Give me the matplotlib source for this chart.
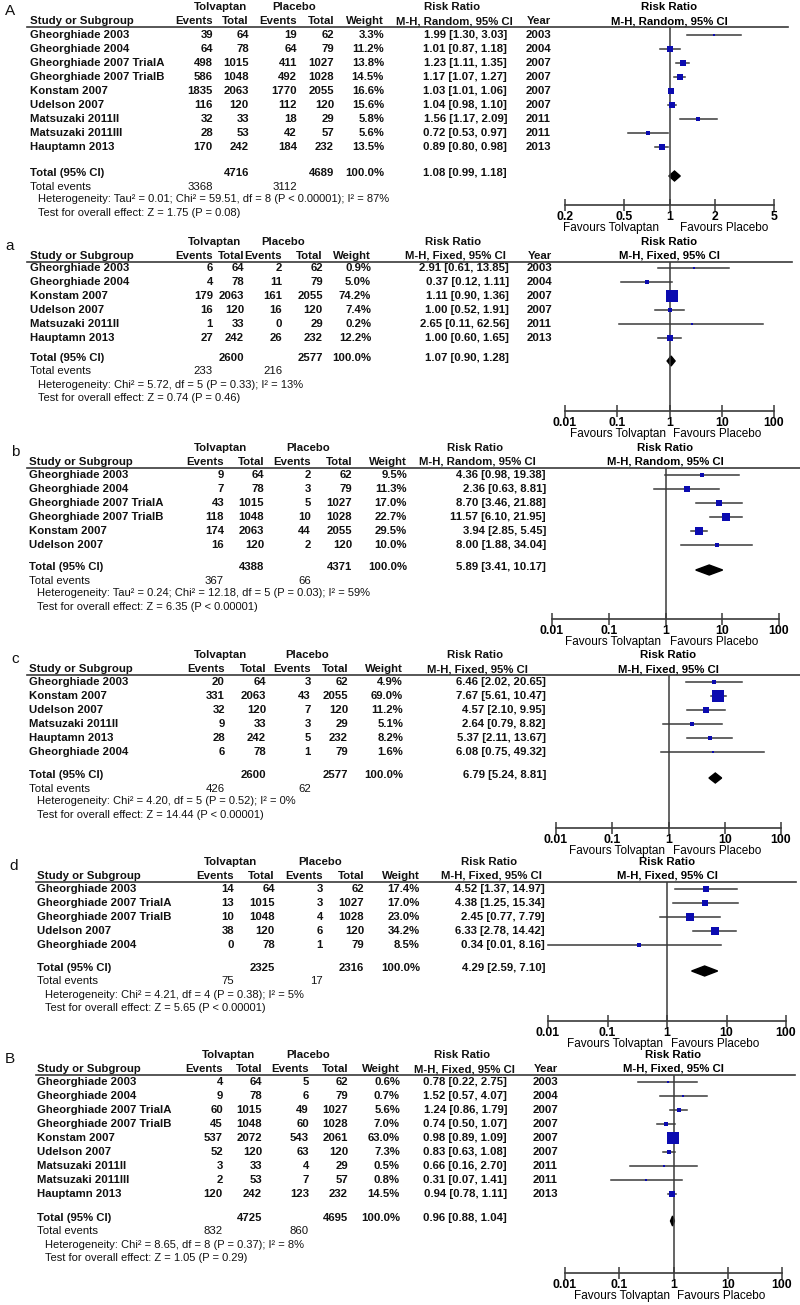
import numpy as np
import matplotlib
matplotlib.use('Agg')
import matplotlib.pyplot as plt
from matplotlib.ticker import NullLocator

plt.rcParams['font.family'] = ['Liberation Sans', 'DejaVu Sans']

W, H = 800, 1305

# ---------------- data ----------------
# Panel A (random effects)
pA_study = ['Gheorghiade 2003', 'Gheorghiade 2004', 'Gheorghiade 2007 TrialA', 'Gheorghiade 2007 TrialB',
            'Konstam 2007', 'Udelson 2007', 'Matsuzaki 2011II', 'Matsuzaki 2011III', 'Hauptamn 2013']
pA_tol_ev = [39, 64, 498, 586, 1835, 116, 32, 28, 170]
pA_tol_n = [64, 78, 1015, 1048, 2063, 120, 33, 53, 242]
pA_pla_ev = [19, 64, 411, 492, 1770, 112, 18, 42, 184]
pA_pla_n = [62, 79, 1027, 1028, 2055, 120, 29, 57, 232]
pA_weight = [3.3, 11.2, 13.8, 14.5, 16.6, 15.6, 5.8, 5.6, 13.5]
pA_rr = [1.99, 1.01, 1.23, 1.17, 1.03, 1.04, 1.56, 0.72, 0.89]
pA_lo = [1.30, 0.87, 1.11, 1.07, 1.01, 0.98, 1.17, 0.53, 0.80]
pA_hi = [3.03, 1.18, 1.35, 1.27, 1.06, 1.10, 2.09, 0.97, 0.98]
pA_year = [2003, 2004, 2007, 2007, 2007, 2007, 2011, 2011, 2013]
pA_total = [4716, 4689, 1.08, 0.99, 1.18]
pA_events = [3368, 3112]
pA_het = 'Heterogeneity: Tau² = 0.01; Chi² = 59.51, df = 8 (P < 0.00001); I² = 87%'
pA_test = 'Test for overall effect: Z = 1.75 (P = 0.08)'

# Panel a
pa_study = ['Gheorghiade 2003', 'Gheorghiade 2004', 'Konstam 2007', 'Udelson 2007',
            'Matsuzaki 2011II', 'Hauptamn 2013']
pa_tol_ev = [6, 4, 179, 16, 1, 27]
pa_tol_n = [64, 78, 2063, 120, 33, 242]
pa_pla_ev = [2, 11, 161, 16, 0, 26]
pa_pla_n = [62, 79, 2055, 120, 29, 232]
pa_weight = [0.9, 5.0, 74.2, 7.4, 0.2, 12.2]
pa_rr = [2.91, 0.37, 1.11, 1.00, 2.65, 1.00]
pa_lo = [0.61, 0.12, 0.90, 0.52, 0.11, 0.60]
pa_hi = [13.85, 1.11, 1.36, 1.91, 62.56, 1.65]
pa_year = [2003, 2004, 2007, 2007, 2011, 2013]
pa_total = [2600, 2577, 1.07, 0.90, 1.28]
pa_events = [233, 216]
pa_het = 'Heterogeneity: Chi² = 5.72, df = 5 (P = 0.33); I² = 13%'
pa_test = 'Test for overall effect: Z = 0.74 (P = 0.46)'

# Panel b
pb_study = ['Gheorghiade 2003', 'Gheorghiade 2004', 'Gheorghiade 2007 TrialA', 'Gheorghiade 2007 TrialB',
            'Konstam 2007', 'Udelson 2007']
pb_tol_ev = [9, 7, 43, 118, 174, 16]
pb_tol_n = [64, 78, 1015, 1048, 2063, 120]
pb_pla_ev = [2, 3, 5, 10, 44, 2]
pb_pla_n = [62, 79, 1027, 1028, 2055, 120]
pb_weight = [9.5, 11.3, 17.0, 22.7, 29.5, 10.0]
pb_rr = [4.36, 2.36, 8.70, 11.57, 3.94, 8.00]
pb_lo = [0.98, 0.63, 3.46, 6.10, 2.85, 1.88]
pb_hi = [19.38, 8.81, 21.88, 21.95, 5.45, 34.04]
pb_total = [4388, 4371, 5.89, 3.41, 10.17]
pb_events = [367, 66]
pb_het = 'Heterogeneity: Tau² = 0.24; Chi² = 12.18, df = 5 (P = 0.03); I² = 59%'
pb_test = 'Test for overall effect: Z = 6.35 (P < 0.00001)'

# Panel c
pc_study = ['Gheorghiade 2003', 'Konstam 2007', 'Udelson 2007', 'Matsuzaki 2011II',
            'Hauptamn 2013', 'Gheorghiade 2004']
pc_tol_ev = [20, 331, 32, 9, 28, 6]
pc_tol_n = [64, 2063, 120, 33, 242, 78]
pc_pla_ev = [3, 43, 7, 3, 5, 1]
pc_pla_n = [62, 2055, 120, 29, 232, 79]
pc_weight = [4.9, 69.0, 11.2, 5.1, 8.2, 1.6]
pc_rr = [6.46, 7.67, 4.57, 2.64, 5.37, 6.08]
pc_lo = [2.02, 5.61, 2.10, 0.79, 2.11, 0.75]
pc_hi = [20.65, 10.47, 9.95, 8.82, 13.67, 49.32]
pc_total = [2600, 2577, 6.79, 5.24, 8.81]
pc_events = [426, 62]
pc_het = 'Heterogeneity: Chi² = 4.20, df = 5 (P = 0.52); I² = 0%'
pc_test = 'Test for overall effect: Z = 14.44 (P < 0.00001)'

# Panel d
pd_study = ['Gheorghiade 2003', 'Gheorghiade 2007 TrialA', 'Gheorghiade 2007 TrialB',
            'Udelson 2007', 'Gheorghiade 2004']
pd_tol_ev = [14, 13, 10, 38, 0]
pd_tol_n = [64, 1015, 1048, 120, 78]
pd_pla_ev = [3, 3, 4, 6, 1]
pd_pla_n = [62, 1027, 1028, 120, 79]
pd_weight = [17.4, 17.0, 23.0, 34.2, 8.5]
pd_rr = [4.52, 4.38, 2.45, 6.33, 0.34]
pd_lo = [1.37, 1.25, 0.77, 2.78, 0.01]
pd_hi = [14.97, 15.34, 7.79, 14.42, 8.16]
pd_total = [2325, 2316, 4.29, 2.59, 7.10]
pd_events = [75, 17]
pd_het = 'Heterogeneity: Chi² = 4.21, df = 4 (P = 0.38); I² = 5%'
pd_test = 'Test for overall effect: Z = 5.65 (P < 0.00001)'

# Panel B
pB_study = ['Gheorghiade 2003', 'Gheorghiade 2004', 'Gheorghiade 2007 TrialA', 'Gheorghiade 2007 TrialB',
            'Konstam 2007', 'Udelson 2007', 'Matsuzaki 2011II', 'Matsuzaki 2011III', 'Hauptamn 2013']
pB_tol_ev = [4, 9, 60, 45, 537, 52, 3, 2, 120]
pB_tol_n = [64, 78, 1015, 1048, 2072, 120, 33, 53, 242]
pB_pla_ev = [5, 6, 49, 60, 543, 63, 4, 7, 123]
pB_pla_n = [62, 79, 1027, 1028, 2061, 120, 29, 57, 232]
pB_weight = [0.6, 0.7, 5.6, 7.0, 63.0, 7.3, 0.5, 0.8, 14.5]
pB_rr = [0.78, 1.52, 1.24, 0.74, 0.98, 0.83, 0.66, 0.31, 0.94]
pB_lo = [0.22, 0.57, 0.86, 0.50, 0.89, 0.63, 0.16, 0.07, 0.78]
pB_hi = [2.75, 4.07, 1.79, 1.07, 1.09, 1.08, 2.70, 1.41, 1.11]
pB_year = [2003, 2004, 2007, 2007, 2007, 2007, 2011, 2011, 2013]
pB_total = [4725, 4695, 0.96, 0.88, 1.04]
pB_events = [832, 860]
pB_het = 'Heterogeneity: Chi² = 8.65, df = 8 (P = 0.37); I² = 8%'
pB_test = 'Test for overall effect: Z = 1.05 (P = 0.29)'

ticks_narrow = [0.2, 0.5, 1, 2, 5]
ticklabels_narrow = ['0.2', '0.5', '1', '2', '5']
ticks_wide = [0.01, 0.1, 1, 10, 100]
ticklabels_wide = ['0.01', '0.1', '1', '10', '100']

BLUE = '#0b0bb0'
GREY = '#3a3a3a'
FS = 8.2
FS_SMALL = 8.0

fig = plt.figure(figsize=(W / 100, H / 100), dpi=100)
bg = fig.add_axes([0, 0, 1, 1])
bg.set_xlim(0, W)
bg.set_ylim(H, 0)
bg.axis('off')


def txt(x, y, s, ha='left', weight='bold', size=FS):
    bg.text(x, y, s, ha=ha, va='center', fontsize=size, fontweight=weight, color='#111')


def draw_panel(letter, study, tev, tn, pev, pn, wt, rr, lo, hi, year, total, events, het, test,
               model, lay, ticks, ticklabels):
    top, row0, tot_y, axis_y = lay['top'], lay['row0'], lay['total'], lay['axis']
    c = lay['col']
    rule_y = top + 20
    step = 14

    bg.text(lay['letter_x'], top + 4, letter, ha='left', va='center', fontsize=11, color='#111')

    # headers
    txt(c['tolv'], top, 'Tolvaptan', ha='center')
    txt(c['plac'], top, 'Placebo', ha='center')
    txt(c['rr'], top, 'Risk Ratio', ha='center')
    h2 = top + 14
    txt(c['study'], h2, 'Study or Subgroup')
    txt(c['ev'], h2, 'Events', ha='right')
    txt(c['tot'], h2, 'Total', ha='right')
    txt(c['pev'], h2, 'Events', ha='right')
    txt(c['ptot'], h2, 'Total', ha='right')
    txt(c['wt'], h2, 'Weight', ha='right')
    txt(c['rr'] + 2, h2, 'M-H, %s, 95%% CI' % model, ha='center')
    if year is not None:
        txt(c['yr'], h2, 'Year', ha='right')
    bg.plot(lay['rule_x'], [rule_y, rule_y], color=GREY, lw=1.2)

    # study rows
    for i in range(len(study)):
        y = row0 + i * step
        txt(c['study'], y, study[i])
        txt(c['ev'], y, str(tev[i]), ha='right')
        txt(c['tot'], y, str(tn[i]), ha='right')
        txt(c['pev'], y, str(pev[i]), ha='right')
        txt(c['ptot'], y, str(pn[i]), ha='right')
        txt(c['wt'], y, '%.1f%%' % wt[i], ha='right')
        txt(c['ci'], y, '%.2f [%.2f, %.2f]' % (rr[i], lo[i], hi[i]), ha='right')
        if year is not None:
            txt(c['yr'], y, str(year[i]), ha='right')

    # totals
    txt(c['study'], tot_y, 'Total (95% CI)')
    txt(c['tot'], tot_y, str(total[0]), ha='right')
    txt(c['ptot'], tot_y, str(total[1]), ha='right')
    txt(c['wt'], tot_y, '100.0%', ha='right')
    txt(c['ci'], tot_y, '%.2f [%.2f, %.2f]' % (total[2], total[3], total[4]), ha='right')
    txt(c['study'], tot_y + 13.5, 'Total events', weight='normal')
    txt(c['ev'], tot_y + 13.5, str(events[0]), ha='right', weight='normal')
    txt(c['pev'], tot_y + 13.5, str(events[1]), ha='right', weight='normal')
    txt(c['study'] + 8, tot_y + 26.5, het, weight='normal', size=FS_SMALL)
    txt(c['study'] + 8, tot_y + 40, test, weight='normal', size=FS_SMALL)

    # forest plot
    x0, x1 = lay['plot']
    ax = fig.add_axes([x0 / W, 1 - axis_y / H, (x1 - x0) / W, (axis_y - rule_y) / H])
    ax.set_xscale('log')
    ax.set_xlim(ticks[0], ticks[-1])
    ax.set_ylim(axis_y, rule_y)
    ax.patch.set_alpha(0)
    for s in ['top', 'left', 'right']:
        ax.spines[s].set_visible(False)
    ax.spines['bottom'].set_color(GREY)
    ax.spines['bottom'].set_linewidth(1.2)
    ax.set_yticks([])
    ax.set_xticks(ticks)
    ax.set_xticklabels(ticklabels)
    ax.xaxis.set_minor_locator(NullLocator())
    ax.tick_params(axis='x', direction='inout', length=8, width=1.1, color=GREY,
                   labelsize=8.8, pad=0)
    for t in ax.get_xticklabels():
        t.set_fontweight('bold')
    ax.axvline(1, color=GREY, lw=1.1)

    for i in range(len(study)):
        y = row0 + i * step
        ax.plot([lo[i], hi[i]], [y, y], color=GREY, lw=1.1, clip_on=False)
        side = max(2.4, 1.5 * np.sqrt(wt[i]))
        ax.plot(rr[i], y, marker='s', ms=side * 0.72, color=BLUE, mec=BLUE, mew=0, clip_on=False)

    d = 5
    ax.fill([total[3], total[2], total[4], total[2]], [tot_y + 3, tot_y + 3 - d, tot_y + 3, tot_y + 3 + d],
            color='black', clip_on=False)

    xc = np.sqrt(ticks[0] * ticks[-1])
    ax.text(xc, top, 'Risk Ratio', ha='center', va='center', fontsize=FS, fontweight='bold', clip_on=False)
    ax.text(xc, top + 14, 'M-H, %s, 95%% CI' % model, ha='center', va='center', fontsize=FS,
            fontweight='bold', clip_on=False)
    ax.text(0.85, axis_y + 23, 'Favours Tolvaptan', ha='right', va='center', fontsize=8.5, clip_on=False)
    ax.text(1.18, axis_y + 23, 'Favours Placebo', ha='left', va='center', fontsize=8.5, clip_on=False)


layouts = {
    'A': dict(top=7, row0=35, total=173, axis=205, letter_x=5, rule_x=[27, 788], plot=(565, 774),
              col=dict(study=30, ev=213, tot=249, pev=297, ptot=334, wt=384, ci=507, yr=551,
                       tolv=221, plac=294, rr=452)),
    'a': dict(top=242, row0=268, total=358, axis=411, letter_x=5, rule_x=[27, 792], plot=(565, 774),
              col=dict(study=30, ev=213, tot=244, pev=282, ptot=323, wt=371, ci=509, yr=552,
                       tolv=214, plac=283, rr=453)),
    'b': dict(top=448, row0=475, total=567, axis=619, letter_x=11, rule_x=[27, 800], plot=(552, 779),
              col=dict(study=29, ev=224, tot=264, pev=311, ptot=352, wt=407, ci=546,
                       tolv=220, plac=308, rr=475)),
    'c': dict(top=655, row0=682, total=775, axis=828, letter_x=11, rule_x=[27, 800], plot=(556, 781),
              col=dict(study=29, ev=225, tot=266, pev=311, ptot=348, wt=403, ci=546,
                       tolv=221, plac=307, rr=475)),
    'd': dict(top=862, row0=889, total=968, axis=1021, letter_x=9, rule_x=[36, 796], plot=(548, 786),
              col=dict(study=37, ev=234, tot=275, pev=323, ptot=364, wt=420, ci=545,
                       tolv=230, plac=320, rr=489)),
    'B': dict(top=1055, row0=1082, total=1218, axis=1273, letter_x=5, rule_x=[36, 795], plot=(565, 782),
              col=dict(study=37, ev=223, tot=262, pev=309, ptot=348, wt=400, ci=507, yr=558,
                       tolv=229, plac=308, rr=462)),
}

draw_panel('A', pA_study, pA_tol_ev, pA_tol_n, pA_pla_ev, pA_pla_n, pA_weight, pA_rr, pA_lo, pA_hi,
           pA_year, pA_total, pA_events, pA_het, pA_test, 'Random', layouts['A'],
           ticks_narrow, ticklabels_narrow)
draw_panel('a', pa_study, pa_tol_ev, pa_tol_n, pa_pla_ev, pa_pla_n, pa_weight, pa_rr, pa_lo, pa_hi,
           pa_year, pa_total, pa_events, pa_het, pa_test, 'Fixed', layouts['a'],
           ticks_wide, ticklabels_wide)
draw_panel('b', pb_study, pb_tol_ev, pb_tol_n, pb_pla_ev, pb_pla_n, pb_weight, pb_rr, pb_lo, pb_hi,
           None, pb_total, pb_events, pb_het, pb_test, 'Random', layouts['b'],
           ticks_wide, ticklabels_wide)
draw_panel('c', pc_study, pc_tol_ev, pc_tol_n, pc_pla_ev, pc_pla_n, pc_weight, pc_rr, pc_lo, pc_hi,
           None, pc_total, pc_events, pc_het, pc_test, 'Fixed', layouts['c'],
           ticks_wide, ticklabels_wide)
draw_panel('d', pd_study, pd_tol_ev, pd_tol_n, pd_pla_ev, pd_pla_n, pd_weight, pd_rr, pd_lo, pd_hi,
           None, pd_total, pd_events, pd_het, pd_test, 'Fixed', layouts['d'],
           ticks_wide, ticklabels_wide)
draw_panel('B', pB_study, pB_tol_ev, pB_tol_n, pB_pla_ev, pB_pla_n, pB_weight, pB_rr, pB_lo, pB_hi,
           pB_year, pB_total, pB_events, pB_het, pB_test, 'Fixed', layouts['B'],
           ticks_wide, ticklabels_wide)

fig.savefig('out.png', dpi=100, facecolor='white')
